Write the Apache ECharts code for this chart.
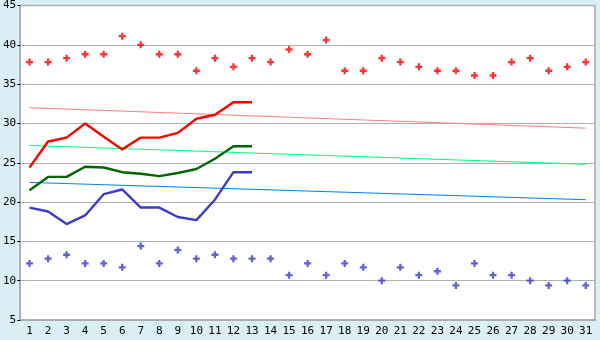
<!DOCTYPE html>
<html><head><meta charset="utf-8">
<script src="https://cdn.jsdelivr.net/npm/echarts@6/dist/echarts.min.js"></script>
<style>html,body{margin:0;padding:0;background:#daf0f6;}#c{width:600px;height:340px;}</style>
</head><body><div id="c"></div>
<script>
var days = [];
for (var d = 1; d <= 31; d++) days.push(String(d));
var maxPoints = [37.8,37.8,38.3,38.8,38.8,41.1,40.0,38.8,38.8,36.7,38.3,37.2,38.3,37.8,39.4,38.8,40.6,36.7,36.7,38.3,37.8,37.2,36.7,36.7,36.1,36.1,37.8,38.3,36.7,37.2,37.8];
var minPoints = [12.2,12.8,13.3,12.2,12.2,11.7,14.4,12.2,13.9,12.8,13.3,12.8,12.8,12.8,10.7,12.2,10.7,12.2,11.7,10.0,11.7,10.7,11.2,9.4,12.2,10.7,10.7,10.0,9.4,10.0,9.4];
var maxLine = [24.4,27.7,28.2,30.0,28.3,26.7,28.2,28.2,28.8,30.6,31.1,32.7,32.7];
var meanLine = [21.5,23.2,23.2,24.5,24.4,23.8,23.6,23.3,23.7,24.2,25.5,27.1,27.1];
var minLine = [19.3,18.8,17.2,18.3,21.0,21.6,19.3,19.3,18.1,17.7,20.3,23.8,23.8];
var maxTrend = [[0,32.0],[30,29.4]];
var meanTrend = [[0,27.2],[30,24.8]];
var minTrend = [[0,22.5],[30,20.3]];

var font = 'DejaVu Sans Mono';
var chart = echarts.init(document.getElementById('c'));
var markPath = 'path://M2,0 L4,0 L4,2 L6,2 L6,4 L4,4 L4,6 L2,6 L2,4 L0,4 L0,2 L2,2 Z';
function trend(data, color){
  return {type:'line', data:data, symbol:'none', lineStyle:{color:color, width:1}, z:2, silent:true};
}
function line(data, color){
  return {type:'line', data:data, symbol:'none', lineStyle:{color:color, width:2.4}, z:4, silent:true};
}
function pts(data, color){
  return {type:'scatter', data:data, symbol:markPath, symbolSize:7, itemStyle:{color:color}, z:5, silent:true};
}
chart.setOption({
  animation:false,
  backgroundColor:'#daf0f6',
  grid:{left:20, right:5, top:5, bottom:20, show:true, backgroundColor:'#ffffff', borderColor:'#aaaaaa', borderWidth:1.5},
  xAxis:{type:'category', data:days, boundaryGap:true,
    axisLine:{lineStyle:{color:'#aaaaaa', width:1.5}},
    axisTick:{alignWithLabel:true, length:5, lineStyle:{color:'#000'}},
    axisLabel:{color:'#000', fontFamily:font, fontSize:11, margin:6, interval:0},
    splitLine:{show:false}},
  yAxis:{type:'value', min:5, max:45, interval:5,
    axisLine:{show:true, lineStyle:{color:'#aaaaaa', width:1.5}},
    axisTick:{show:true, length:3, lineStyle:{color:'#000'}},
    axisLabel:{color:'#000', fontFamily:font, fontSize:11, margin:4},
    splitLine:{lineStyle:{color:'#b0b0b0', width:1}}},
  series:[
    trend(maxTrend,'#ff8080'),
    trend(meanTrend,'#00ff80'),
    trend(minTrend,'#0080ff'),
    line(maxLine,'#ff0000'),
    line(meanLine,'#006600'),
    line(minLine,'#3c3cc8'),
    pts(maxPoints,'#ff0000'),
    pts(minPoints,'#3c3cc8')
  ]
});
</script></body></html>
